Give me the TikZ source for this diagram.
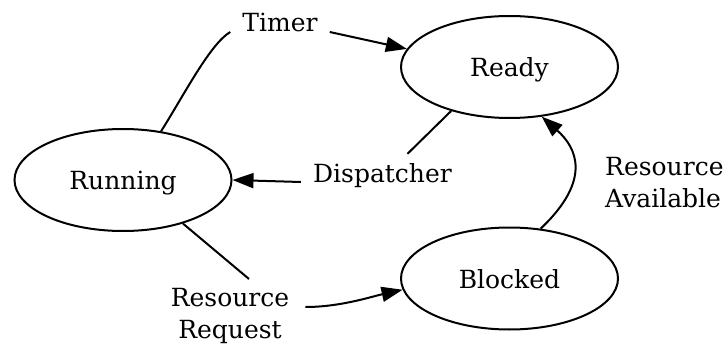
\documentclass[tikz,border=0pt]{standalone}
\usepackage{fontspec}
\setmainfont{DejaVu Serif}
\usetikzlibrary{arrows.meta,calc,shapes.geometric}
\begin{document}
\begin{tikzpicture}[x=1pt,y=-1pt,
  every node/.style={font=\fontsize{25pt}{32pt}\selectfont},
  state/.style={ellipse,draw,line width=2pt,minimum width=217pt,minimum height=102pt,inner sep=0pt,text height=19pt,text depth=0pt},
  lbl/.style={inner xsep=12pt,inner ysep=9pt},
  conn/.style={line width=2pt},
  arr/.style={conn,-{Triangle[length=21pt,width=15pt]}}]
\useasboundingbox (0,0) rectangle (726,345);
\node[state] (run) at (123,180) {Running};
\node[state] (rdy) at (509.5,67) {Ready};
\node[state] (blk) at (509.5,278.5) {Blocked};
\node[lbl,anchor=base] (tmr) at (280,32) {Timer};
\node[lbl,anchor=base] (dsp) at (382.5,182) {Dispatcher};
\node[lbl,align=left,anchor=north west] (rav) at (593,148) {Resource\\Available};
\node[lbl,align=center,anchor=north] (rrq) at (230,279) {Resource\\Request};
\draw[conn] (run.52) .. controls (184,95) and (210,44) .. (tmr.base west);
\draw[arr] (tmr.base east) -- (rdy.170);
\draw[conn] (rdy.217.6) -- ($(dsp.north)+(25,0)$);
\draw[arr] (dsp.base west) -- (run.east);
\draw[conn] (run.-36) -- ($(rrq.north)+(19,0)$);
\draw[arr] ($(rrq.north east)+(4,28)$) .. controls (340,307) and (370,297) .. (blk.186);
\draw[arr] (blk.58) .. controls (592,180) and (577,148) .. (rdy.303);
\end{tikzpicture}
\end{document}
